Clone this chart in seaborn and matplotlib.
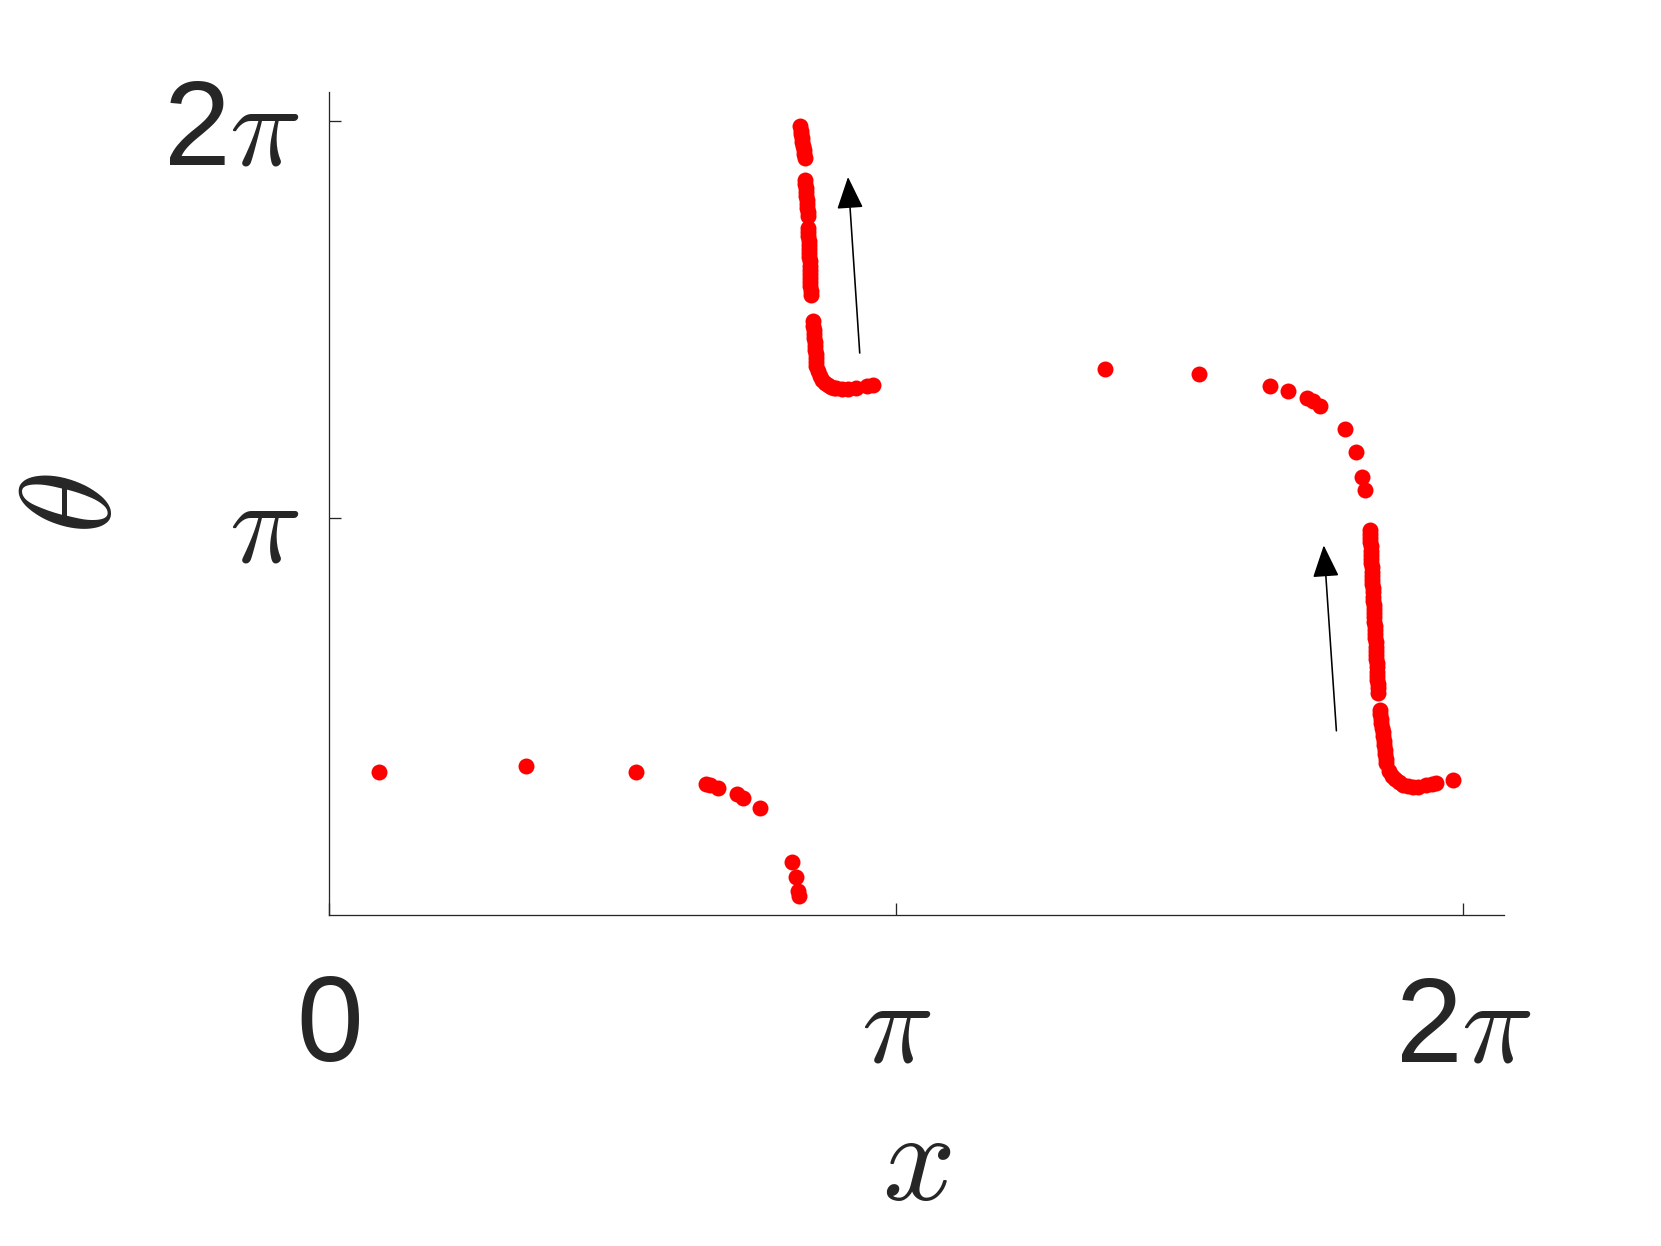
import numpy as np
import pandas as pd
import seaborn as sns
import matplotlib.pyplot as plt

# ---------------- data ----------------
# lower-left branch
x_low = [0.276, 1.089, 1.700, 2.086, 2.108, 2.151, 2.256, 2.293, 2.385, 2.564, 2.585, 2.597, 2.601]
th_low = [1.134, 1.179, 1.129, 1.039, 1.029, 1.005, 0.955, 0.928, 0.844, 0.419, 0.301, 0.192, 0.153]

# upper-left steep branch (wrapped from 2*pi downwards)
x_up = [2.607, 2.611, 2.614, 2.618, 2.621, 2.624, 2.628, 2.631, 2.635,
        2.635, 2.637, 2.639, 2.641, 2.643, 2.645, 2.647, 2.649, 2.651, 2.653,
        2.653, 2.654, 2.655, 2.656, 2.657, 2.658, 2.659, 2.660, 2.661, 2.662,
        2.663, 2.664, 2.665, 2.666, 2.666, 2.667, 2.668,
        2.681, 2.682, 2.684, 2.685, 2.687, 2.689, 2.690, 2.692, 2.694, 2.695, 2.697, 2.699,
        2.706, 2.718, 2.731, 2.745, 2.762, 2.779, 2.795, 2.810, 2.840, 2.873, 2.917, 2.978, 3.011]
th_up = [6.238, 6.205, 6.176, 6.144, 6.112, 6.083, 6.050, 6.019, 5.988,
         5.816, 5.784, 5.752, 5.720, 5.688, 5.655, 5.622, 5.590, 5.558, 5.526,
         5.434, 5.401, 5.368, 5.335, 5.302, 5.269, 5.236, 5.203, 5.170, 5.137,
         5.104, 5.071, 5.038, 5.005, 4.972, 4.939, 4.906,
         4.695, 4.663, 4.631, 4.599, 4.567, 4.535, 4.503, 4.471, 4.439, 4.405, 4.372, 4.339,
         4.303, 4.265, 4.234, 4.208, 4.190, 4.178, 4.171, 4.168, 4.162, 4.162, 4.168, 4.182, 4.194]

# right branch
x_right = [4.297, 4.818, 5.211, 5.315, 5.418, 5.451, 5.492, 5.626, 5.689, 5.724, 5.737,
           5.766, 5.767, 5.768, 5.770, 5.771, 5.772, 5.773, 5.774, 5.775, 5.777,
           5.778, 5.779, 5.780, 5.781, 5.783, 5.784, 5.785, 5.786, 5.787, 5.788,
           5.790, 5.791, 5.792, 5.793, 5.794, 5.795, 5.797, 5.798, 5.799, 5.800,
           5.801, 5.803, 5.804, 5.805, 5.806, 5.807, 5.808, 5.810, 5.811, 5.812,
           5.822, 5.825, 5.828, 5.831, 5.834, 5.837, 5.840, 5.843, 5.846, 5.849,
           5.852, 5.855, 5.858,
           5.871, 5.888, 5.904, 5.926, 5.950, 5.976, 6.003, 6.031, 6.079, 6.109, 6.131, 6.227]
th_right = [4.318, 4.276, 4.186, 4.144, 4.086, 4.062, 4.030, 3.844, 3.666, 3.466, 3.359,
            3.047, 3.014, 2.981, 2.948, 2.915, 2.882, 2.849, 2.816, 2.783, 2.750,
            2.717, 2.684, 2.651, 2.618, 2.585, 2.552, 2.519, 2.486, 2.453, 2.420,
            2.387, 2.354, 2.321, 2.288, 2.255, 2.222, 2.189, 2.156, 2.123, 2.090,
            2.057, 2.024, 1.991, 1.958, 1.925, 1.892, 1.859, 1.826, 1.793, 1.760,
            1.622, 1.587, 1.552, 1.517, 1.482, 1.447, 1.412, 1.376, 1.341, 1.306,
            1.271, 1.236, 1.200,
            1.140, 1.100, 1.076, 1.052, 1.029, 1.017, 1.013, 1.013, 1.029, 1.037, 1.045, 1.068]

# arrows: (tail_x, tail_y) -> (tip_x, tip_y)
arrow_tail_x = [2.939, 5.581]
arrow_tail_y = [4.445, 1.457]
arrow_tip_x = [2.874, 5.511]
arrow_tip_y = [5.838, 2.924]

x_ticks = [0, np.pi, 2 * np.pi]
x_ticklabels = ['0', r'$\pi$', r'2$\pi$']
y_ticks = [np.pi, 2 * np.pi]
y_ticklabels = [r'$\pi$', r'2$\pi$']

# ---------------- plotting ----------------
sns.set_style("white")
plt.rcParams['font.family'] = ['Liberation Sans', 'DejaVu Sans']
plt.rcParams['mathtext.fontset'] = 'cm'

TXT = '#262626'
DPI = 72
fig = plt.figure(figsize=(1661 / DPI, 1246 / DPI), dpi=DPI)
ax = fig.add_axes([0.19837, 0.26565, 0.70711, 0.66051])

df = pd.DataFrame({
    'x': x_low + x_up + x_right,
    'theta': th_low + th_up + th_right,
})
sns.scatterplot(data=df, x='x', y='theta', color='#ff0000', s=255,
                linewidth=0, ax=ax, legend=False, zorder=3)

for tx, ty, hx, hy in zip(arrow_tail_x, arrow_tail_y, arrow_tip_x, arrow_tip_y):
    ax.annotate('', xy=(hx, hy), xytext=(tx, ty),
                arrowprops=dict(arrowstyle='-|>,head_length=28,head_width=11.5',
                                mutation_scale=1, color='black', lw=1.6,
                                shrinkA=0, shrinkB=0))

ax.set_xlim(0, 6.51)
ax.set_ylim(0, 6.51)
ax.set_xticks(x_ticks)
ax.set_xticklabels(x_ticklabels)
ax.set_yticks(y_ticks)
ax.set_yticklabels(y_ticklabels)

sns.despine(ax=ax)
for sp in ['left', 'bottom']:
    ax.spines[sp].set_color(TXT)
    ax.spines[sp].set_linewidth(1.3)

ax.tick_params(bottom=True, left=True, top=False, right=False,
               direction='in', length=12, width=1.3, color=TXT,
               labelsize=120, labelcolor=TXT)
ax.tick_params(axis='x', pad=59)
ax.tick_params(axis='y', pad=30)

ax.set_xlabel(r'$x$', fontsize=128, color=TXT)
ax.set_ylabel(r'$\theta$', fontsize=128, color=TXT)
ax.xaxis.set_label_coords(0.5, -0.233)
ax.yaxis.set_label_coords(-0.163, 0.5)

fig.savefig('out.png', dpi=DPI)
